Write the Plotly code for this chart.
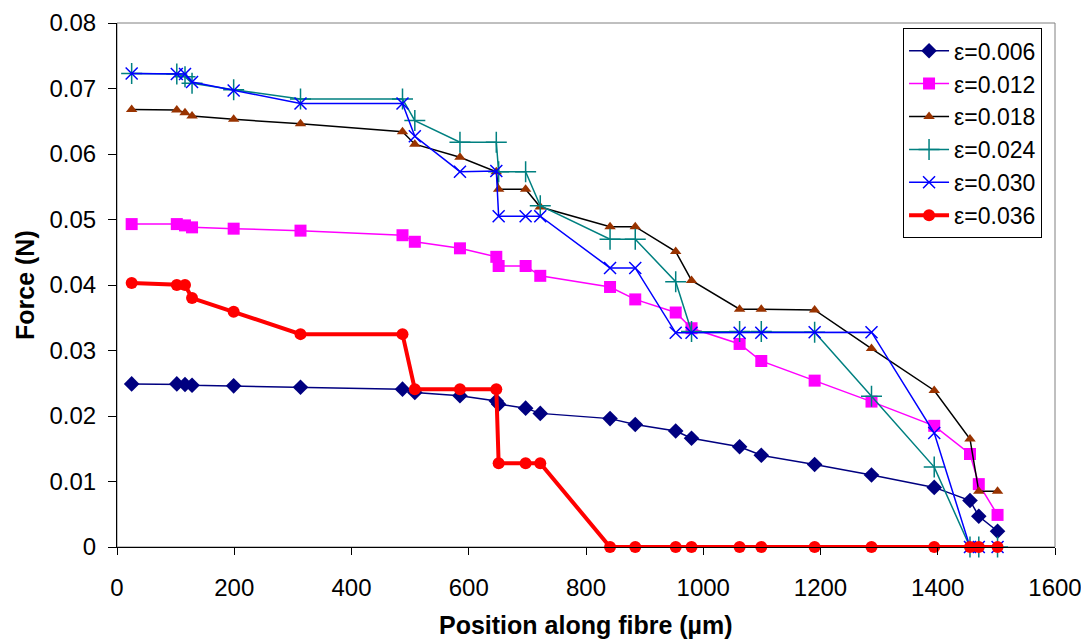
import plotly.graph_objects as go

position = [25, 102, 116, 128, 199, 313, 487, 508, 585, 647, 651, 697, 722,
            841, 884, 953, 980, 1062, 1099, 1190, 1287, 1394, 1455, 1470, 1502]

f_006 = [0.0249, 0.0249, 0.0248, 0.0247, 0.0246, 0.0244, 0.0241, 0.0236, 0.0231,
         0.0223, 0.0218, 0.0212, 0.0204, 0.0196, 0.0187, 0.0177, 0.0166, 0.0153,
         0.0140, 0.0126, 0.0110, 0.0091, 0.0071, 0.0047, 0.0024]
f_012 = [0.0493, 0.0493, 0.0491, 0.0488, 0.0486, 0.0483, 0.0476, 0.0466, 0.0456,
         0.0443, 0.0429, 0.0429, 0.0414, 0.0397, 0.0378, 0.0358, 0.0334, 0.0310,
         0.0284, 0.0254, 0.0222, 0.0185, 0.0142, 0.0096, 0.0049]
f_018 = [0.0668, 0.0667, 0.0663, 0.0658, 0.0653, 0.0646, 0.0634, 0.0615, 0.0595,
         0.0573, 0.0546, 0.0546, 0.0519, 0.0489, 0.0489, 0.0451, 0.0407, 0.0363,
         0.0363, 0.0362, 0.0303, 0.0239, 0.0165, 0.0085, 0.0085]
f_024 = [0.0723, 0.0722, 0.0718, 0.0708, 0.0698, 0.0684, 0.0684, 0.0651, 0.0618,
         0.0618, 0.0573, 0.0573, 0.0521, 0.0470, 0.0470, 0.0405, 0.0329, 0.0329,
         0.0329, 0.0328, 0.0230, 0.0122, 0.0, 0.0, 0.0]
f_030 = [0.0723, 0.0722, 0.0722, 0.0710, 0.0697, 0.0677, 0.0677, 0.0627, 0.0573,
         0.0574, 0.0505, 0.0505, 0.0505, 0.0426, 0.0426, 0.0327, 0.0327, 0.0327,
         0.0327, 0.0328, 0.0328, 0.0174, 0.0, 0.0, 0.0]
f_036 = [0.0403, 0.0400, 0.0400, 0.0380, 0.0359, 0.0325, 0.0325, 0.0241, 0.0241,
         0.0241, 0.0128, 0.0128, 0.0128, 0.0, 0.0, 0.0, 0.0, 0.0,
         0.0, 0.0, 0.0, 0.0, 0.0, 0.0, 0.0]

series_names = ["ε=0.006", "ε=0.012", "ε=0.018", "ε=0.024", "ε=0.030", "ε=0.036"]

FONT = "Arial, 'Liberation Sans', sans-serif"

fig = go.Figure()

styles = [
    (f_006, dict(color="#000080", width=1.5), dict(symbol="diamond", size=12, color="#000080")),
    (f_012, dict(color="#FF00FF", width=1.5), dict(symbol="square", size=12, color="#FF00FF")),
    (f_018, dict(color="#000000", width=1.5), dict(symbol="triangle-up", size=10, color="#993300")),
    (f_024, dict(color="#008080", width=1.5), dict(symbol="cross-thin-open", size=15, color="#008080",
                                                   line=dict(color="#008080", width=1.5))),
    (f_030, dict(color="#0000FF", width=1.5), dict(symbol="x-thin-open", size=12, color="#0000FF",
                                                   line=dict(color="#0000FF", width=1.5))),
    (f_036, dict(color="#FF0000", width=4), dict(symbol="circle", size=12, color="#FF0000")),
]

for name, (vals, line, marker) in zip(series_names, styles):
    fig.add_trace(go.Scatter(x=position, y=vals, name=name, mode="lines+markers",
                             line=line, marker=marker, cliponaxis=False))

fig.add_shape(type="rect", xref="paper", yref="paper", x0=0, y0=0, x1=1, y1=1,
              line=dict(color="#808080", width=1), layer="below")

# The page body has an 8px margin, so the figure is sized to fit inside the window.
fig.update_layout(
    width=1081, height=636,
    margin=dict(l=109, r=34, t=15, b=97, autoexpand=False),
    paper_bgcolor="white", plot_bgcolor="white",
    font=dict(family=FONT, size=24, color="#000000"),
    showlegend=True,
    legend=dict(x=0.838, y=0.99, xanchor="left", yanchor="top",
                bgcolor="white", bordercolor="#000000", borderwidth=1,
                font=dict(family=FONT, size=23, color="#000000"),
                tracegroupgap=0, itemwidth=40),
    xaxis=dict(range=[0, 1600], dtick=200, tick0=0, showgrid=False, zeroline=False,
               automargin=False,
               showline=True, linecolor="#000000", linewidth=1,
               ticks="outside", ticklen=7, tickcolor="#000000",
               ticklabelstandoff=12,
               tickfont=dict(family=FONT, size=24, color="#000000")),
    yaxis=dict(range=[0, 0.08], dtick=0.01, tick0=0, showgrid=False, zeroline=False,
               automargin=False,
               showline=True, linecolor="#000000", linewidth=1,
               ticks="outside", ticklen=8, tickcolor="#000000",
               ticklabelstandoff=7,
               tickfont=dict(family=FONT, size=24, color="#000000")),
    annotations=[
        dict(text="Position along fibre (µm)", xref="paper", yref="paper",
             x=0.5, y=0, yshift=-78, xanchor="center", yanchor="middle",
             showarrow=False, font=dict(family=FONT, size=25, color="#000000", weight="bold")),
        dict(text="Force (N)", xref="paper", yref="paper",
             x=0, y=0.5, xshift=-92, xanchor="center", yanchor="middle", textangle=-90,
             showarrow=False, font=dict(family=FONT, size=25, color="#000000", weight="bold")),
    ],
)

fig.write_html("out.html")
